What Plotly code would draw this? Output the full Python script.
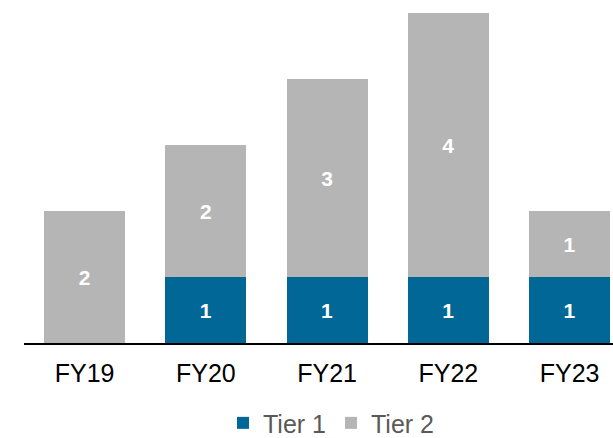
import plotly.graph_objects as go

categories = ["FY19", "FY20", "FY21", "FY22", "FY23"]
tier1 = [0, 1, 1, 1, 1]
tier2 = [2, 2, 3, 4, 1]

blue = "#006796"
gray = "#b5b5b5"

def labels(vals):
    return [str(v) if v else "" for v in vals]

label_font = dict(color="white", size=21, family="Liberation Sans", weight="bold")

fig = go.Figure()
fig.add_trace(go.Bar(x=categories, y=tier1, name="Tier 1", marker_color=blue,
                     marker_line_width=0, text=labels(tier1), textposition="inside",
                     insidetextanchor="middle", textfont=label_font, hoverinfo="skip"))
fig.add_trace(go.Bar(x=categories, y=tier2, name="Tier 2", marker_color=gray,
                     marker_line_width=0, text=labels(tier2), textposition="inside",
                     insidetextanchor="middle", textfont=label_font, hoverinfo="skip"))

fig.update_layout(
    barmode="stack",
    bargap=0.332,
    width=613, height=438,
    margin=dict(l=24, r=0, t=0, b=95),
    plot_bgcolor="white", paper_bgcolor="white",
    font=dict(family="Liberation Sans, Arial, sans-serif"),
    showlegend=True,
    legend=dict(orientation="h", xref="container", x=0.54, xanchor="center",
                yref="container", y=0.034, yanchor="middle",
                font=dict(size=25, color="#595959"),
                traceorder="normal", itemclick=False, tracegroupgap=0),
    xaxis=dict(range=[-0.5, 4.358], showgrid=False, showline=True, linecolor="black",
               linewidth=2, ticks="", tickfont=dict(size=25, color="black"),
               ticklabelstandoff=7, fixedrange=True),
    yaxis=dict(range=[0, 5.197], visible=False, fixedrange=True),
)

fig.write_html("out.html", config={"displayModeBar": False, "staticPlot": True},
               post_script="document.body.style.margin='0';document.body.style.overflow='hidden';")
